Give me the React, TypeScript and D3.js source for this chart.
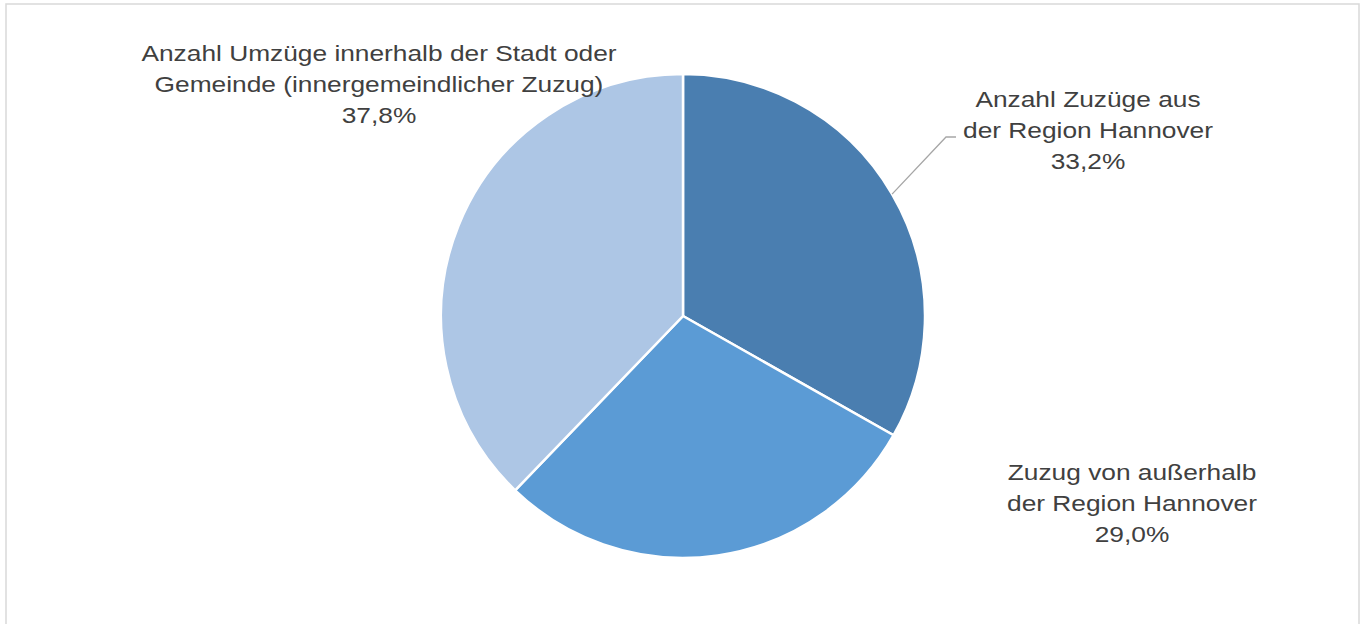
import React from 'react'
import * as d3 from 'd3'

const categories = [
  'Anzahl Zuzüge aus der Region Hannover',
  'Zuzug von außerhalb der Region Hannover',
  'Anzahl Umzüge innerhalb der Stadt oder Gemeinde (innergemeindlicher Zuzug)',
]
const shares = [33.2, 29.0, 37.8]
const labelLines = [
  ['Anzahl Zuzüge aus', 'der Region Hannover'],
  ['Zuzug von außerhalb', 'der Region Hannover'],
  ['Anzahl Umzüge innerhalb der Stadt oder', 'Gemeinde (innergemeindlicher Zuzug)'],
]
const colors = ['#4a7eb0', '#5b9bd5', '#adc6e5']

export default () => {
  const width = 1362
  const height = 624
  const cx = 683
  const cy = 316
  const r = 242
  const lineH = 31

  // label block positions (center x, first baseline)
  const labelPos = [
    { x: 1088, y: 107 },
    { x: 1132, y: 480 },
    { x: 379, y: 61 },
  ]

  const pie = d3.pie<number>().sort(null).value((d) => d)
  const arcs = pie(shares)
  const arc = d3.arc<d3.PieArcDatum<number>>().innerRadius(0).outerRadius(r)
  const fmt = (v: number) => d3.format('.1f')(v).replace('.', ',') + '%'

  // leader line for first slice
  const a0 = arcs[0]
  const mid = (a0.startAngle + a0.endAngle) / 2
  const p0 = [cx + r * Math.sin(mid), cy - r * Math.cos(mid)]
  const p2 = [labelPos[0].x - 132, labelPos[0].y + 31 - 1]
  const p1 = [p2[0] - 10, p2[1]]

  return (
    <svg width={width} height={height} style={{ position: 'absolute', left: 0, top: 0 }}>
      <rect x={0} y={0} width={width} height={height} fill="#fff" />
      <rect x={6} y={4} width={1353} height={640} fill="none" stroke="#d9d9d9" strokeWidth={1.5} />
      <g transform={`translate(${cx},${cy})`}>
        {arcs.map((a, i) => (
          <path key={categories[i]} d={arc(a) as string} fill={colors[i]} stroke="#fff" strokeWidth={2.5} />
        ))}
      </g>
      <polyline
        points={[p0, p1, p2].map((p) => p.join(',')).join(' ')}
        fill="none"
        stroke="#a6a6a6"
        strokeWidth={1.3}
      />
      {labelLines.map((lines, i) => (
        <text
          key={categories[i]}
          transform={`translate(${labelPos[i].x},0) scale(1.18,1)`}
          textAnchor="middle"
          fontFamily="'Liberation Sans', Arial, sans-serif"
          fontSize={22.3}
          fill="#404040"
        >
          {[...lines, fmt(shares[i])].map((t, j) => (
            <tspan key={j} x={0} y={labelPos[i].y + j * lineH}>
              {t}
            </tspan>
          ))}
        </text>
      ))}
    </svg>
  )
}
